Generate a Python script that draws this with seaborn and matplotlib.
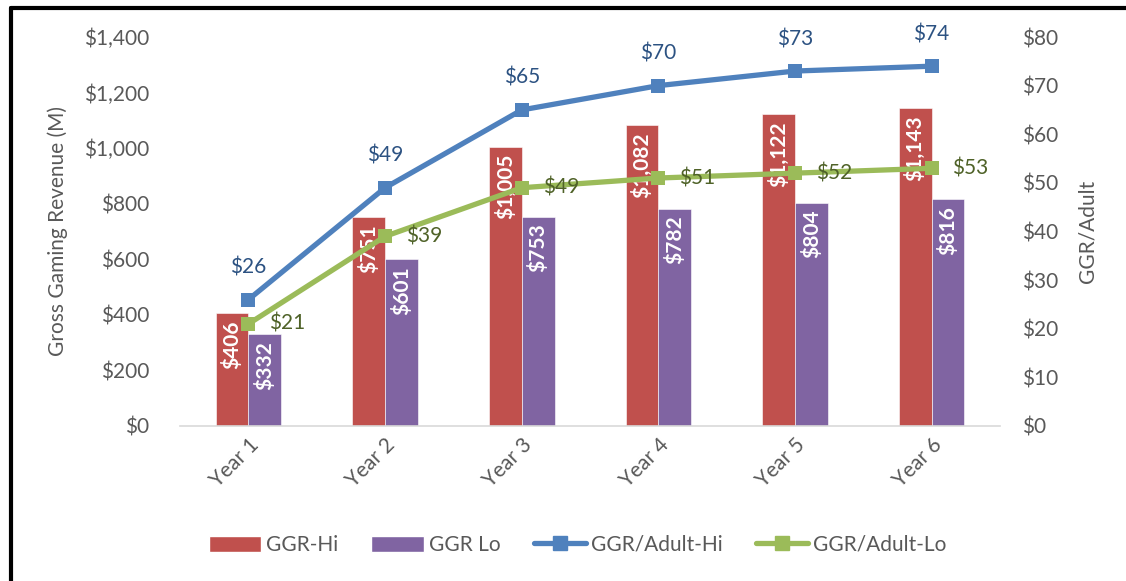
import numpy as np
import pandas as pd
import matplotlib
matplotlib.use("Agg")
import matplotlib.pyplot as plt
from matplotlib.lines import Line2D
from matplotlib.patches import Patch
import seaborn as sns

# Data
years = ["Year 1", "Year 2", "Year 3", "Year 4", "Year 5", "Year 6"]
ggr_hi = [406, 751, 1005, 1082, 1122, 1143]
ggr_lo = [332, 601, 753, 782, 804, 816]
per_adult_hi = [26, 49, 65, 70, 73, 74]
per_adult_lo = [21, 39, 49, 51, 52, 53]
left_ticks = [0, 200, 400, 600, 800, 1000, 1200, 1400]
right_ticks = [0, 10, 20, 30, 40, 50, 60, 70, 80]

RED = "#C0504D"
PURPLE = "#8064A2"
BLUE = "#4F81BD"
GREEN = "#9BBB59"
BLUE_TXT = "#2C5282"
GREEN_TXT = "#4F6228"
GRAY = "#595959"
FS = 15

sns.set_theme(style="white")
plt.rcParams["font.family"] = ["Lato", "DejaVu Sans"]

fig = plt.figure(figsize=(11.26, 5.81), dpi=100)
ax = fig.add_axes([0.16, 0.2668, 0.728, 0.6695])

bars_df = pd.DataFrame({
    "year": years * 2,
    "value": ggr_hi + ggr_lo,
    "series": ["GGR-Hi"] * len(years) + ["GGR Lo"] * len(years),
})
sns.barplot(data=bars_df, x="year", y="value", hue="series",
            palette=[RED, PURPLE], saturation=1, width=0.48, gap=0, dodge=True,
            order=years, hue_order=["GGR-Hi", "GGR Lo"],
            edgecolor="white", linewidth=0.4, legend=False, ax=ax)

for container in ax.containers:
    for rect in container:
        h = rect.get_height()
        ax.annotate(f"${h:,.0f}", (rect.get_x() + rect.get_width() / 2, h),
                    xytext=(0, -5), textcoords="offset points",
                    rotation=90, ha="center", va="top",
                    color="white", fontsize=FS, fontweight="bold")

ax.set_xlim(-0.5, len(years) - 0.5)
ax.set_ylim(0, 1400)
ax.set_yticks(left_ticks)
ax.set_yticklabels([f"${v:,}" for v in left_ticks])
ax.set_xlabel("")
ax.set_ylabel("Gross Gaming Revenue (M)", fontsize=FS, color=GRAY, labelpad=12)
ax.tick_params(axis="y", length=0, labelsize=FS, labelcolor=GRAY, pad=22)
ax.tick_params(axis="x", length=0, labelsize=FS, labelcolor=GRAY, pad=6)
for lbl in ax.get_xticklabels():
    lbl.set_rotation(45)
    lbl.set_ha("right")
    lbl.set_rotation_mode("anchor")
for side in ["top", "left", "right"]:
    ax.spines[side].set_visible(False)
ax.spines["bottom"].set_color("#D9D9D9")
ax.spines["bottom"].set_linewidth(1.2)

# Per-adult lines on the secondary axis
ax2 = ax.twinx()
pos = np.arange(len(years))
sns.lineplot(x=pos, y=per_adult_hi, color=BLUE, linewidth=3.8, marker="s",
             markersize=10, markeredgewidth=0, ax=ax2)
sns.lineplot(x=pos, y=per_adult_lo, color=GREEN, linewidth=3.8, marker="s",
             markersize=10, markeredgewidth=0, ax=ax2)
for x, v in zip(pos, per_adult_hi):
    ax2.annotate(f"${v}", (x, v), xytext=(0, 23), textcoords="offset points",
                 ha="center", va="center", color=BLUE_TXT, fontsize=FS)
for x, v in zip(pos, per_adult_lo):
    ax2.annotate(f"${v}", (x, v), xytext=(15, 0), textcoords="offset points",
                 ha="left", va="center", color=GREEN_TXT, fontsize=FS)
ax2.set_ylim(0, 80)
ax2.set_yticks(right_ticks)
ax2.set_yticklabels([f"${v}" for v in right_ticks])
ax2.set_ylabel("GGR/Adult", fontsize=FS, color=GRAY, labelpad=14)
ax2.tick_params(axis="y", length=0, labelsize=FS, labelcolor=GRAY, pad=16)
for side in ["top", "left", "right", "bottom"]:
    ax2.spines[side].set_visible(False)
ax2.grid(False)
ax.grid(False)

handles = [
    Patch(facecolor=RED, label="GGR-Hi"),
    Patch(facecolor=PURPLE, label="GGR Lo"),
    Line2D([], [], color=BLUE, lw=3.8, marker="s", markersize=10, label="GGR/Adult-Hi"),
    Line2D([], [], color=GREEN, lw=3.8, marker="s", markersize=10, label="GGR/Adult-Lo"),
]
fig.legend(handles=handles, loc="center", bbox_to_anchor=(0.513, 0.062), ncol=4,
           frameon=False, fontsize=FS, labelcolor=GRAY, handlelength=2.5,
           handletextpad=0.25, columnspacing=1.6, handleheight=0.8)

# Frame edges along the top and left of the figure
fig.add_artist(Line2D([0.0098, 0.0098], [0, 0.987], transform=fig.transFigure,
                      color="black", lw=3))
fig.add_artist(Line2D([0.0098, 1.0], [0.987, 0.987], transform=fig.transFigure,
                      color="black", lw=3))

fig.savefig("out.png", dpi=100, facecolor="white")
